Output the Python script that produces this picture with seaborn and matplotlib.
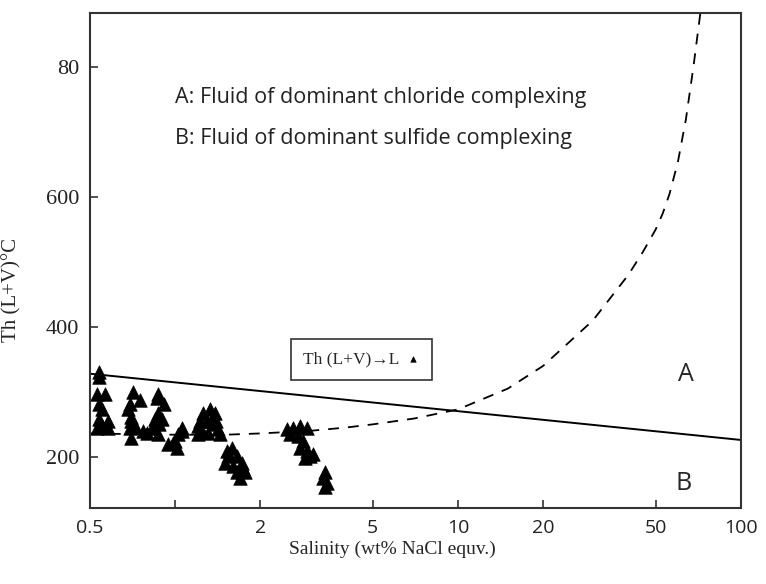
"""Th vs salinity plot of fluid inclusions with chloride/sulfide complexing fields."""

import matplotlib.pyplot as plt
import pandas as pd
import seaborn as sns
from matplotlib.ticker import FixedLocator, NullLocator

# Fluid inclusion measurements (salinity wt% NaCl equiv., Th in C).
salinity = [
    0.54, 0.54, 0.53, 0.565, 0.54, 0.55, 0.54, 0.58, 0.53, 0.58, 0.553,
    0.71, 0.75, 0.69, 0.68, 0.70, 0.70, 0.69, 0.72, 0.70, 0.77, 0.795,
    0.87, 0.91, 0.86, 0.87, 0.85, 0.90, 0.88, 0.87, 0.83,
    0.94, 1.0, 1.02, 1.06, 1.06, 1.015, 0.98,
    1.2, 1.25, 1.33, 1.38, 1.30, 1.24, 1.36, 1.42, 1.44, 1.2, 1.31, 1.35, 1.22, 1.40,
    1.52, 1.59, 1.54, 1.50, 1.65, 1.60, 1.72, 1.74, 1.70, 1.77, 1.65,
    2.49, 2.61, 2.76, 2.92, 2.55, 2.72, 2.83, 2.76, 2.92, 3.07, 2.87, 2.99,
    3.39, 3.33, 3.44, 3.39,
]
th = [
    331, 323, 296, 296, 282, 273, 258, 255, 244, 244, 247,
    300, 288, 282, 273, 262, 255, 244, 247, 229, 240, 237,
    297, 282, 290, 267, 258, 259, 250, 235, 244,
    220, 224, 235, 244, 240, 214, 221,
    247, 267, 273, 267, 255, 240, 250, 243, 235, 235, 237, 259, 255, 255,
    209, 214, 202, 191, 202, 186, 191, 182, 168, 176, 176,
    243, 244, 247, 244, 235, 232, 224, 214, 209, 205, 198, 202,
    176, 167, 160, 153,
]

# Boundary between chloride (A) and sulfide (B) complexing fields.
boundary_x = [0.5, 100]
boundary_y = [328, 226]

# Dashed curve.
curve_x = [0.5, 0.7, 1, 1.5, 2, 3, 4, 5, 7, 10, 15, 20, 30, 40, 45, 50, 53, 56,
           60, 64, 68, 72]
curve_y = [236, 235, 234, 234, 236, 240, 245, 250, 259, 273, 305, 340, 410, 480,
           515, 550, 575, 605, 655, 720, 800, 884]

x_ticks = [0.5, 1, 2, 5, 10, 20, 50, 100]
x_tick_labels = ["0.5", "", "2", "5", "10", "20", "50", "100"]
y_ticks = [200, 400, 600, 800]
y_tick_labels = ["200", "400", "600", "80"]

sns.set_theme(style="ticks")
plt.rcParams["font.family"] = ["Liberation Serif", "DejaVu Serif"]

fig = plt.figure(figsize=(7.66, 5.84), dpi=100)
ax = fig.add_axes([0.1175, 0.130, 0.8495, 0.848])

points = pd.DataFrame({"salinity": salinity, "th": th})
sns.scatterplot(
    data=points, x="salinity", y="th", marker="^", s=95,
    color="black", edgecolor="black", linewidth=0.5, ax=ax,
    label="Th (L+V)\u2192L",
)
sns.lineplot(x=boundary_x, y=boundary_y, color="black", linewidth=1.4, ax=ax)
sns.lineplot(
    x=curve_x, y=curve_y, color="black", linewidth=1.3, ax=ax,
    dashes=False, linestyle=(0, (6, 5)),
)

ax.set_xscale("log")
ax.set_xlim(0.5, 100)
ax.set_ylim(121, 884)
ax.xaxis.set_major_locator(FixedLocator(x_ticks))
ax.xaxis.set_minor_locator(NullLocator())
ax.set_xticklabels(x_tick_labels, fontfamily="Open Sans", fontsize=14)
ax.set_yticks(y_ticks)
ax.set_yticklabels(y_tick_labels, fontsize=16)
ax.tick_params(direction="in", length=6, width=1.2, colors="#333333",
               labelcolor="#222222", pad=8)

for spine in ax.spines.values():
    spine.set_visible(True)
    spine.set_linewidth(1.5)
    spine.set_color("#333333")

ax.set_xlabel("Salinity (wt% NaCl equv.)", fontsize=14, labelpad=2)
ax.xaxis.set_label_coords(0.464, -0.065)
ax.set_ylabel("Th (L+V)\u00b0C", fontsize=15)
ax.yaxis.set_label_coords(-0.105, 0.44)

ax.text(0.13, 0.830, "A: Fluid of dominant chloride complexing",
        transform=ax.transAxes, fontfamily="Open Sans", fontsize=15.5,
        color="#222222", va="center")
ax.text(0.13, 0.747, "B: Fluid of dominant sulfide complexing",
        transform=ax.transAxes, fontfamily="Open Sans", fontsize=15.5,
        color="#222222", va="center")
ax.text(0.915, 0.27, "A", transform=ax.transAxes, fontfamily="Open Sans",
        fontsize=18, ha="center", va="center")
ax.text(0.912, 0.05, "B", transform=ax.transAxes, fontfamily="Open Sans",
        fontsize=18, ha="center", va="center")

leg = ax.legend(
    loc="center left", bbox_to_anchor=(0.309, 0.30), borderaxespad=0,
    markerfirst=False, fancybox=False, edgecolor="#333333", framealpha=1,
    fontsize=12.5, markerscale=0.4, handletextpad=0.3, borderpad=0.7,
    handlelength=0.9,
)
leg.get_frame().set_linewidth(1.2)

fig.savefig("out.png", dpi=100, facecolor="white")
